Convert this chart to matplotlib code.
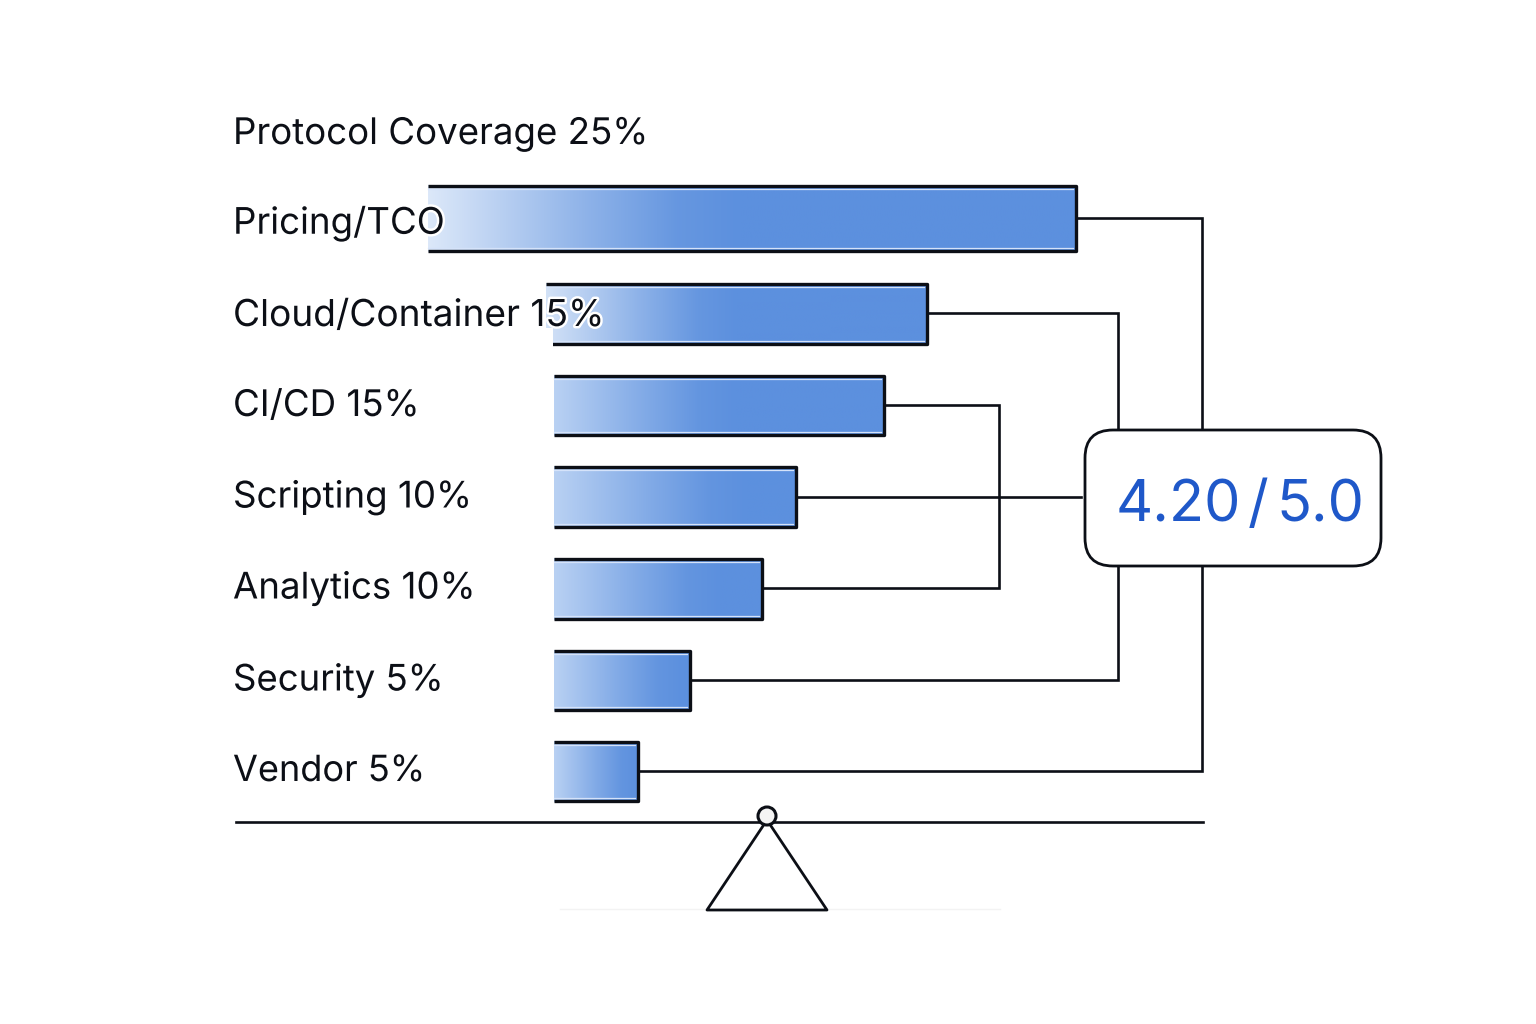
import matplotlib
matplotlib.use("Agg")
import matplotlib.patheffects as pe
import matplotlib.pyplot as plt
import numpy as np
from matplotlib.colors import LinearSegmentedColormap, to_rgb
from matplotlib.patches import Circle, FancyBboxPatch, Polygon, Rectangle

plt.rcParams["font.family"] = ["Inter", "DejaVu Sans"]

labels = [
    "Protocol Coverage 25%",
    "Pricing/TCO",
    "Cloud/Container 15%",
    "CI/CD 15%",
    "Scripting 10%",
    "Analytics 10%",
    "Security 5%",
    "Vendor 5%",
]
# bar lengths, Pricing/TCO down to Vendor
bar_lengths = [648, 381, 330, 242, 208, 136, 84]
score = "4.20"
score_max = "5.0"

DARK = "#0c0f16"
BLUE = "#1f58c9"
BAR_END = "#5c90de"
BAR_STARTS = ["#dce8f9", "#d3e2f7", "#b9d1f3", "#b9d1f3", "#b9d1f3", "#b9d1f3", "#b9d1f3"]
GRAD_SPAN = [0.48, 0.5, 0.55, 0.8, 0.8, 0.95, 1.0]

BAR_LEFT = [428, 546, 554, 554, 554, 554, 554]
BAR_TOP = [185, 283, 375, 466, 558, 650, 741]
BAR_HEIGHT = [67, 62, 61, 62, 62, 61, 61]
LABEL_Y = [131, 220, 312, 403, 494, 585, 677, 768]
LABEL_SIZE = [26.4, 26.4, 26.7, 26.4, 26.4, 26.4, 26.3, 26.0]
halo = [pe.withStroke(linewidth=3.5, foreground="white")]


def mix(a, b, t):
    a, b = np.array(to_rgb(a)), np.array(to_rgb(b))
    return tuple(a + (b - a) * t)


def draw_bar(ax, left, top, length, height, start, span):
    right = left + length
    bottom = top + height
    # eased stops so the ramp has no visible kink where it reaches the end colour
    cmap = LinearSegmentedColormap.from_list("bar", [
        (0, start),
        (0.5 * span, mix(start, BAR_END, 0.6)),
        (0.8 * span, mix(start, BAR_END, 0.92)),
        (span, BAR_END),
        (1, BAR_END),
    ])
    grad = np.linspace(0, 1, 256).reshape(1, -1)
    ax.imshow(grad, cmap=cmap, vmin=0, vmax=1, aspect="auto", zorder=2,
              extent=(left, right, bottom, top), interpolation="bilinear")
    # light inner rim, dark outer rim on top, bottom and right side
    ax.plot([left, right - 3], [top + 4, top + 4], color="#d5e3fa", lw=0.9, zorder=3)
    ax.plot([left, right - 3], [bottom - 4, bottom - 4], color="#d5e3fa", lw=0.9, zorder=3)
    ax.plot([left, right, right, left], [top + 1, top + 1, bottom - 1, bottom - 1],
            color=DARK, lw=2.4, zorder=4, solid_joinstyle="round", solid_capstyle="butt")


fig = plt.figure(figsize=(15.36, 10.24), dpi=100)
ax = fig.add_axes([0, 0, 1, 1])

for i, length in enumerate(bar_lengths):
    draw_bar(ax, BAR_LEFT[i], BAR_TOP[i], length, BAR_HEIGHT[i], BAR_STARTS[i], GRAD_SPAN[i])

# cloud bar is notched under its label
ax.add_patch(Rectangle((543, 328), 10, 22, facecolor="white", edgecolor="none", zorder=5))

connectors = [
    ([1076, 1202, 1202], [218, 218, 428]),
    ([1202, 1202, 638], [566, 771, 771]),
    ([927, 1118, 1118], [313, 313, 428]),
    ([1118, 1118, 690], [566, 680, 680]),
    ([884, 999, 999, 762], [405, 405, 588, 588]),
    ([796, 1081], [497, 497]),
]
for xs, ys in connectors:
    ax.plot(xs, ys, color=DARK, lw=1.9, zorder=1, solid_joinstyle="miter")

ax.add_patch(FancyBboxPatch((1085 + 28, 430 + 28), 296 - 56, 136 - 56,
                            boxstyle="round,pad=28", facecolor="white",
                            edgecolor=DARK, lw=2.0, zorder=3))
ax.text(1116, 501, score, color=BLUE, fontsize=41.5, va="center_baseline", ha="left", zorder=6)
ax.text(1258, 501, "/", color=BLUE, fontsize=41.5, va="center_baseline", ha="center", zorder=6)
ax.text(1276, 501, score_max, color=BLUE, fontsize=41.5, va="center_baseline", ha="left", zorder=6)

# balance beam and fulcrum
ax.plot([560, 1000], [909, 909], color="#f3f3f3", lw=1.0, zorder=0)
ax.plot([236, 1203], [822, 822], color=DARK, lw=1.9, zorder=2)
ax.add_patch(Polygon([(767, 820), (827, 910), (707, 910)], closed=True, facecolor="white",
                     edgecolor=DARK, lw=2.0, joinstyle="round", zorder=1))
ax.add_patch(Circle((767, 816), 9, facecolor="#f4f4f4", edgecolor=DARK, lw=2.2, zorder=3))

for text, y, size in zip(labels, LABEL_Y, LABEL_SIZE):
    ax.text(233, y, text, color=DARK, fontsize=size, va="center_baseline", ha="left",
            path_effects=halo, zorder=7)

ax.set_xlim(0, 1536)
ax.set_ylim(1024, 0)
ax.axis("off")

fig.savefig("out.png", dpi=100, facecolor="white")
plt.close(fig)
